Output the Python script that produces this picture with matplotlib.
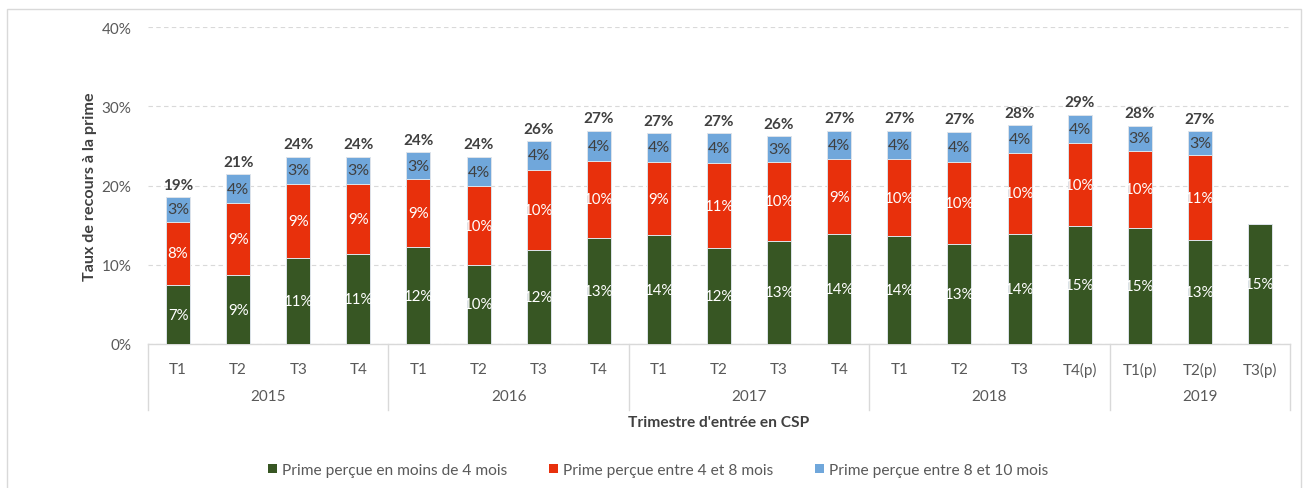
import matplotlib
matplotlib.use("Agg")
import matplotlib.pyplot as plt
from matplotlib.patches import Rectangle, Patch
from matplotlib.transforms import blended_transform_factory
import numpy as np

plt.rcParams['font.family'] = ['Lato', 'DejaVu Sans']

quarters = ["T1", "T2", "T3", "T4", "T1", "T2", "T3", "T4", "T1", "T2", "T3", "T4",
            "T1", "T2", "T3", "T4(p)", "T1(p)", "T2(p)", "T3(p)"]
years = ["2015", "2016", "2017", "2018", "2019"]
year_counts = [4, 4, 4, 4, 3]

green = [7.44, 8.7, 10.9, 11.4, 12.2, 10.0, 11.8, 13.4, 13.7, 12.1, 13.0, 13.9,
         13.6, 12.6, 13.9, 14.9, 14.7, 13.1, 15.2]
red = [8.0, 9.1, 9.3, 8.8, 8.6, 9.9, 10.2, 9.7, 9.3, 10.7, 10.0, 9.4,
       9.7, 10.35, 10.2, 10.4, 9.7, 10.76, 0]
blue = [3.1, 3.6, 3.4, 3.4, 3.4, 3.7, 3.6, 3.8, 3.6, 3.8, 3.2, 3.6,
        3.6, 3.8, 3.5, 3.6, 3.15, 3.0, 0]

series_names = ["Prime perçue en moins de 4 mois", "Prime perçue entre 4 et 8 mois",
                "Prime perçue entre 8 et 10 mois"]
colors = ["#375623", "#E8300C", "#70A7DB"]

W, H = 1306, 489
fig = plt.figure(figsize=(W / 100, H / 100), dpi=100)
ax = fig.add_axes([148 / W, 1 - 345 / H, (1290 - 148) / W, (345 - 28) / H])

x = np.arange(len(quarters))
g = np.array(green) / 100
r = np.array(red) / 100
b = np.array(blue) / 100
bw = 0.40
ec = "#DDE3EA"
ax.bar(x, g, bw, color=colors[0], edgecolor=ec, linewidth=0.7, zorder=3)
ax.bar(x, r, bw, bottom=g, color=colors[1], edgecolor=ec, linewidth=0.7, zorder=3)
ax.bar(x, b, bw, bottom=g + r, color=colors[2], edgecolor=ec, linewidth=0.7, zorder=3)

for i in range(len(x)):
    ax.text(x[i], g[i] / 2, f"{green[i]:.0f}%", ha="center", va="center",
            color="white", fontsize=10.8, zorder=4)
    if red[i] > 0:
        ax.text(x[i], g[i] + r[i] / 2, f"{red[i]:.0f}%", ha="center", va="center",
                color="white", fontsize=10.8, zorder=4)
    if blue[i] > 0:
        ax.text(x[i], g[i] + r[i] + b[i] / 2, f"{blue[i]:.0f}%", ha="center", va="center",
                color="#404040", fontsize=11.5, zorder=4)
        tot = green[i] + red[i] + blue[i]
        ax.annotate(f"{tot:.0f}%", (x[i], g[i] + r[i] + b[i]), xytext=(0, 4),
                    textcoords="offset points", ha="center", va="bottom",
                    color="#404040", fontsize=11, fontweight="bold", zorder=4)

ax.set_xlim(-0.5, len(x) - 0.5)
ax.set_ylim(0, 0.40)
ax.set_yticks([0, 0.1, 0.2, 0.3, 0.4])
ax.set_yticklabels(["0%", "10%", "20%", "30%", "40%"])
ax.tick_params(axis="y", length=0, pad=12, labelsize=11, labelcolor="#595959")
ax.grid(axis="y", color="#D9D9D9", linestyle=(0, (4, 3)), linewidth=0.8, zorder=0)
for s in ["top", "right", "left"]:
    ax.spines[s].set_visible(False)
ax.spines["bottom"].set_color("#D9D9D9")
ax.spines["bottom"].set_linewidth(1.0)
ax.set_xticks(x)
ax.set_xticklabels(quarters)
ax.tick_params(axis="x", length=0, pad=13, labelsize=11, labelcolor="#595959")

trans = blended_transform_factory(ax.transData, ax.transAxes)
px = 1 / (345 - 28)
start = 0
bounds = [-0.5]
for yname, cnt in zip(years, year_counts):
    center = start + (cnt - 1) / 2
    ax.text(center, -52 * px, yname, transform=trans, ha="center", va="center",
            fontsize=11, color="#595959")
    start += cnt
    bounds.append(start - 0.5)
for bd in bounds:
    ax.plot([bd, bd], [0, -66 * px], transform=trans, color="#D9D9D9",
            linewidth=1.0, clip_on=False)

ax.text(0.5, -78 * px, "Trimestre d'entrée en CSP", transform=ax.transAxes,
        ha="center", va="center", fontsize=11.2, fontweight="bold", color="#404040")
fig.text(90 / W, 1 - 187 / H, "Taux de recours à la prime", rotation=90,
         ha="center", va="center", fontsize=11.6, fontweight="bold", color="#404040")

handles = [Patch(facecolor=c, edgecolor="none") for c in colors]
fig.legend(handles, series_names, loc="center", bbox_to_anchor=(658 / W, 1 - 471 / H),
           ncol=3, frameon=False, fontsize=11.2, handlelength=0.58, handleheight=0.58,
           handletextpad=0.32, columnspacing=2.7, labelcolor="#595959")

fig.patches.append(Rectangle((7 / W, -0.05), (1301 - 7) / W, 1.05 - 10 / H,
                             transform=fig.transFigure, fill=False,
                             edgecolor="#D9D9D9", linewidth=1.0))

fig.savefig("out.png", dpi=100)
